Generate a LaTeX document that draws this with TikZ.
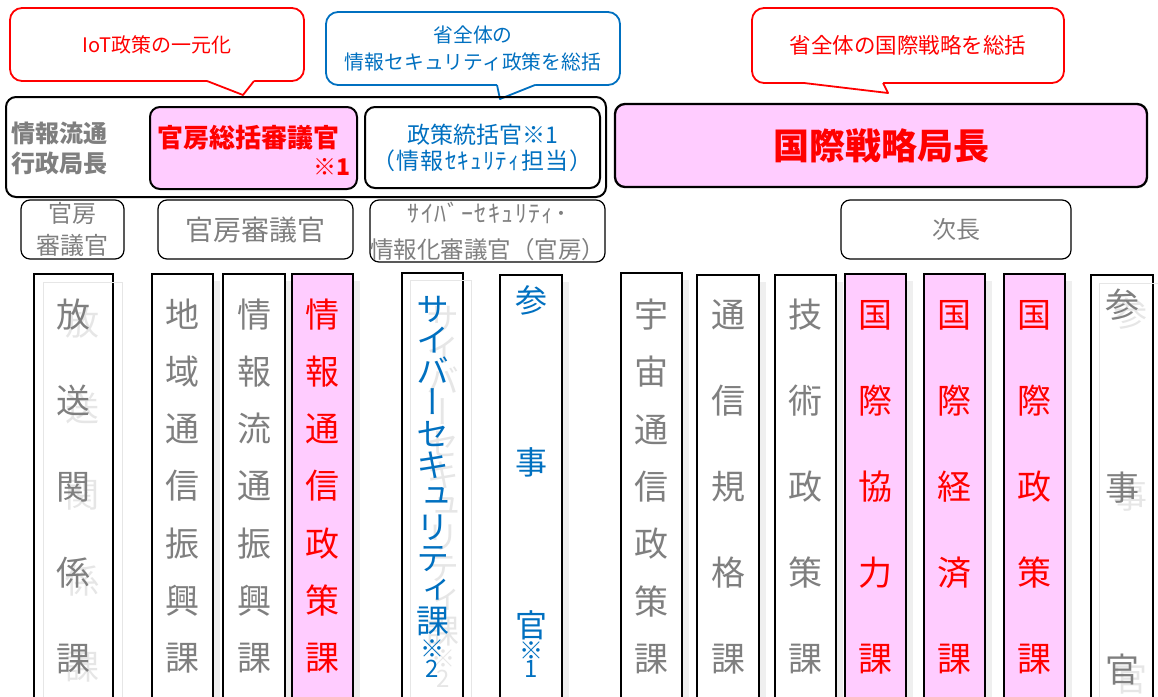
\documentclass[tikz,border=0pt]{standalone}
\usepackage{fontspec}
\newfontfamily\jp{Noto Sans CJK JP}
\newfontfamily\jpv[RawFeature=+vert]{Noto Sans CJK JP}
\definecolor{tgray}{HTML}{7F7F7F}
\definecolor{tred}{HTML}{FF0000}
\definecolor{tblue}{HTML}{0070C0}
\definecolor{pinkf}{HTML}{FFCCFF}
\definecolor{shad}{HTML}{EFEFEF}
\definecolor{ghost}{HTML}{E6E6E6}
\begin{document}
\begin{tikzpicture}[x=1pt,y=-1pt,
  every node/.style={inner sep=0pt,outer sep=0pt},
  callbox/.style={draw,fill=white,rounded corners=12pt,line width=1.8pt,align=center},
  tailline/.style={line width=1.8pt,line join=round},
  topframe/.style={draw=black,rounded corners=10pt,line width=2pt,align=center},
  midframe/.style={draw=black,rounded corners=9pt,line width=1.2pt,align=center,text=tgray},
  colframe/.style={draw=black,anchor=north west,line width=1.3pt,minimum height=440pt,fill=white},
  pinkcol/.style={colframe,fill=pinkf},
  shadowcol/.style={anchor=north west,fill=shad,minimum height=440pt},
  ghostcol/.style={anchor=north west,draw=ghost,line width=1pt,minimum height=440pt},
  seven/.style={align=center,font=\jp\fontsize{34pt}{57.3pt}\selectfont},
  five/.style={align=center,font=\jp\fontsize{34pt}{86pt}\selectfont},
]
\useasboundingbox (0,0) rectangle (1158,696);

% ---------- callouts ----------
\node[callbox,draw=tred,text=tred,minimum width=294pt,minimum height=73pt,
  font=\jp\fontsize{20pt}{24pt}\selectfont] (c1) at (157,44.5) {IoT政策の一元化};
\coordinate (c1a) at (207,81); \coordinate (c1t) at (243,95); \coordinate (c1b) at (254,81);
\fill[white] ([yshift=2.5pt]c1a) -- (c1a) -- (c1t) -- (c1b) -- ([yshift=2.5pt]c1b) -- cycle;
\draw[tailline,tred] (c1a) -- (c1t) -- (c1b);

\node[callbox,draw=tblue,text=tblue,minimum width=294pt,minimum height=73pt,
  font=\jp\fontsize{19.8pt}{27pt}\selectfont] (c2) at (473,48.5) {省全体の\\情報セキュリティ政策を総括};
\coordinate (c2a) at (497,85); \coordinate (c2t) at (500,99); \coordinate (c2b) at (535,85);
\fill[white] ([yshift=2.5pt]c2a) -- (c2a) -- (c2t) -- (c2b) -- ([yshift=2.5pt]c2b) -- cycle;
\draw[tailline,tblue] (c2a) -- (c2t) -- (c2b);

\node[callbox,draw=tred,text=tred,minimum width=312pt,minimum height=75pt,
  font=\jp\fontsize{21.5pt}{24pt}\selectfont] (c3) at (908,45.5) {省全体の国際戦略を総括};
\coordinate (c3a) at (804,83); \coordinate (c3t) at (888,93); \coordinate (c3b) at (883,83);
\fill[white] ([yshift=2.5pt]c3a) -- (c3a) -- (c3t) -- (c3b) -- ([yshift=2.5pt]c3b) -- cycle;
\draw[tailline,tred] (c3a) -- (c3t) -- (c3b);

% ---------- top level ----------
\node[topframe,minimum width=600pt,minimum height=100pt] (outer) at (306,147) {};
\node[anchor=west,align=left,text=tgray,font=\jp\bfseries\fontsize{24pt}{30pt}\selectfont] (chief) at (11,148) {情報流通\\行政局長};
\node[topframe,fill=pinkf,minimum width=207pt,minimum height=82pt] (sokatsu) at (253.5,148) {};
\node[text=tred,font=\jp\bfseries\fontsize{26pt}{30pt}\selectfont] (sokatsut) at (248,138) {官房総括審議官};
\node[anchor=east,text=tred,font=\jp\bfseries\fontsize{23pt}{26pt}\selectfont] (sokatsun) at (351,167) {※1};
\node[topframe,fill=white,minimum width=235pt,minimum height=81pt,text=tblue,
  font=\jp\fontsize{23pt}{26pt}\selectfont] (tokatsu) at (482.5,147.5) {政策統括官※1\\{\addfontfeature{LetterSpace=5}（情報ｾｷｭﾘﾃｨ担当）}};
\node[topframe,fill=pinkf,line width=2.3pt,minimum width=532pt,minimum height=83pt,text=tred,
  font=\jp\bfseries\fontsize{36pt}{40pt}\selectfont] (kokusai) at (881,145.5) {国際戦略局長};

% ---------- second level ----------
\node[midframe,minimum width=103pt,minimum height=59pt,font=\jp\fontsize{24pt}{32pt}\selectfont] (b1) at (72.5,229.5) {官房\\審議官};
\node[midframe,minimum width=195pt,minimum height=59pt,font=\jp\fontsize{28pt}{30pt}\selectfont] (b2) at (255.5,229.5) {官房審議官};
\node[midframe,minimum width=235pt,minimum height=62pt,font=\jp\fontsize{23.5pt}{36pt}\selectfont] (b3) at (487.5,231) {{\addfontfeature{LetterSpace=6}\fontsize{24pt}{36pt}\selectfont ｻｲﾊﾞｰｾｷｭﾘﾃｨ･}\\情報化審議官（官房）};
\node[midframe,minimum width=230pt,minimum height=59pt,font=\jp\fontsize{24pt}{30pt}\selectfont] (b4) at (956,229.5) {次長};

% ---------- columns ----------
% 1 放送関係課 (ghost)
\node[colframe,minimum width=79pt] (k1) at (34,274) {};
\node[ghostcol,minimum width=79pt] (k1g) at (43,282) {};
\node[five,text=ghost] (k1gt) at (82.5,495) {放\\送\\関\\係\\課};
\node[five,text=tgray] (k1t) at (73.5,487) {放\\送\\関\\係\\課};

% 2 地域通信振興課
\node[shadowcol,minimum width=61pt] (k2s) at (159,281) {};
\node[colframe,minimum width=61pt] (k2) at (152,274) {};
\node[seven,text=tgray] (k2t) at (182.5,486) {地\\域\\通\\信\\振\\興\\課};

% 3 情報流通振興課
\node[shadowcol,minimum width=62pt] (k3s) at (230,281) {};
\node[colframe,minimum width=62pt] (k3) at (223,274) {};
\node[seven,text=tgray] (k3t) at (254,486) {情\\報\\流\\通\\振\\興\\課};

% 4 情報通信政策課
\node[shadowcol,minimum width=61pt] (k4s) at (299,281) {};
\node[pinkcol,minimum width=61pt] (k4) at (292,274) {};
\node[seven,text=tred] (k4t) at (322.5,486) {情\\報\\通\\信\\政\\策\\課};

% 5 サイバーセキュリティ課※2 (ghost)
\node[colframe,minimum width=61pt] (k5) at (402,273) {};
\node[ghostcol,minimum width=61pt] (k5g) at (410,280) {};
\node[align=center,text=ghost,font=\jpv\fontsize{33pt}{31.2pt}\selectfont] (k5gt) at (443,476) {サ\\イ\\バ\\ー\\セ\\キ\\ュ\\リ\\テ\\ィ\\課};
\node[align=center,text=ghost,font=\jp\fontsize{24pt}{20pt}\selectfont] (k5gn) at (443,669) {※\\2};
\node[align=center,text=tblue,font=\jpv\fontsize{33pt}{31.2pt}\selectfont] (k5t) at (432.5,466) {サ\\イ\\バ\\ー\\セ\\キ\\ュ\\リ\\テ\\ィ\\課};
\node[align=center,text=tblue,font=\jp\fontsize{24pt}{20pt}\selectfont] (k5n) at (432.5,659) {※\\2};

% 6 参事官※1
\node[shadowcol,minimum width=62pt] (k6s) at (507,282) {};
\node[colframe,minimum width=62pt] (k6) at (500,275) {};
\node[align=center,text=tblue,font=\jp\fontsize{32pt}{162.5pt}\selectfont] (k6t) at (531,462.5) {参\\事\\官};
\node[align=center,text=tblue,font=\jp\fontsize{24pt}{18pt}\selectfont] (k6n) at (531,660) {※\\1};

% 7 宇宙通信政策課
\node[shadowcol,minimum width=61pt] (k7s) at (628,280) {};
\node[colframe,minimum width=61pt] (k7) at (621,273) {};
\node[seven,text=tgray] (k7t) at (651.5,486.5) {宇\\宙\\通\\信\\政\\策\\課};

% 8 通信規格課
\node[shadowcol,minimum width=62pt] (k8s) at (704,282) {};
\node[colframe,minimum width=62pt] (k8) at (697,275) {};
\node[five,text=tgray] (k8t) at (728,487) {通\\信\\規\\格\\課};

% 9 技術政策課
\node[shadowcol,minimum width=61pt] (k9s) at (782,282) {};
\node[colframe,minimum width=61pt] (k9) at (775,275) {};
\node[five,text=tgray] (k9t) at (805.5,487) {技\\術\\政\\策\\課};

% 10 国際協力課
\node[shadowcol,minimum width=61pt] (k10s) at (852,281) {};
\node[pinkcol,minimum width=61pt] (k10) at (845,274) {};
\node[five,text=tred] (k10t) at (875.5,487) {国\\際\\協\\力\\課};

% 11 国際経済課
\node[shadowcol,minimum width=61pt] (k11s) at (931,281) {};
\node[pinkcol,minimum width=61pt] (k11) at (924,274) {};
\node[five,text=tred] (k11t) at (954.5,487) {国\\際\\経\\済\\課};

% 12 国際政策課
\node[shadowcol,minimum width=61pt] (k12s) at (1011,281) {};
\node[pinkcol,minimum width=61pt] (k12) at (1004,274) {};
\node[five,text=tred] (k12t) at (1034.5,487) {国\\際\\政\\策\\課};

% 13 参事官 (ghost)
\node[colframe,minimum width=62pt] (k13) at (1091,275) {};
\node[ghostcol,minimum width=62pt] (k13g) at (1099,283) {};
\node[align=center,text=ghost,font=\jp\fontsize{34pt}{182.5pt}\selectfont] (k13gt) at (1130,496) {参\\事\\官};
\node[align=center,text=tgray,font=\jp\fontsize{34pt}{182.5pt}\selectfont] (k13t) at (1122,487.5) {参\\事\\官};
\end{tikzpicture}
\end{document}
